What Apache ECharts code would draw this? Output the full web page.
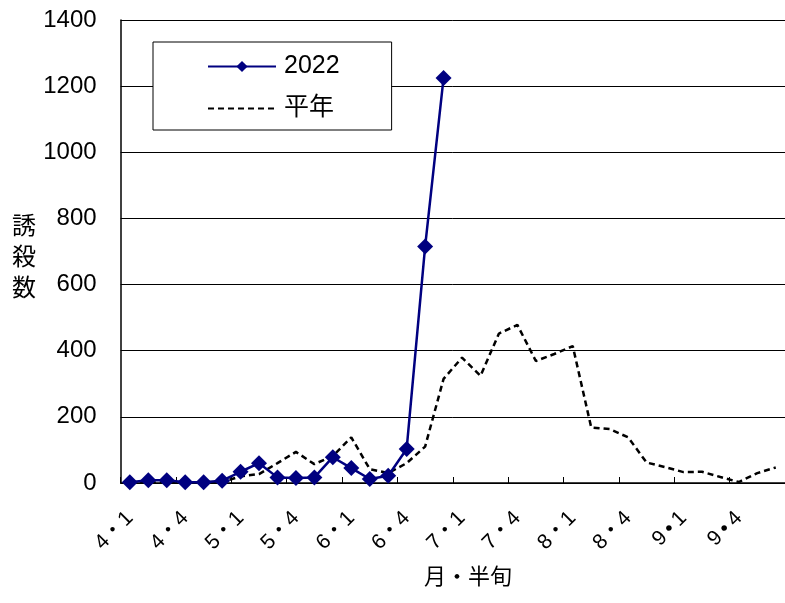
<!DOCTYPE html>
<html>
<head>
<meta charset="utf-8">
<script src="https://cdn.jsdelivr.net/npm/echarts@6/dist/echarts.min.js"></script>
<style>html,body{margin:0;padding:0;background:#fff}#c{width:785px;height:603px}</style>
</head>
<body>
<div id="c"></div>
<script>
const categories = [
  '4・1','4・2','4・3','4・4','4・5','4・6',
  '5・1','5・2','5・3','5・4','5・5','5・6',
  '6・1','6・2','6・3','6・4','6・5','6・6',
  '7・1','7・2','7・3','7・4','7・5','7・6',
  '8・1','8・2','8・3','8・4','8・5','8・6',
  '9\u2009•\u20091','9\u2009•\u20092','9\u2009•\u20093','9\u2009•\u20094','9\u2009•\u20095','9\u2009•\u20096'
];
const values2022 = [2, 8, 8, 2, 2, 7, 34, 60, 17, 15, 17, 78, 45, 12, 22, 103, 715, 1225,
  null, null, null, null, null, null, null, null, null, null, null, null, null, null, null, null, null, null];
const valuesNormal = [1, 1, 2, 1, 2, 3, 20, 27, 60, 94, 57, 82, 138, 42, 30, 60, 110, 315,
  379, 324, 452, 478, 369, 390, 414, 168, 163, 138, 62, 48, 33, 34, 18, 3, 30, 47];
const yTicks = { min: 0, max: 1400, interval: 200 };
const names = { s1: '2022', s2: '平年', y: '誘\n殺\n数', x: '月・半旬' };

const FONT = '"Liberation Sans", "Noto Sans CJK JP", sans-serif';
const chart = echarts.init(document.getElementById('c'));
chart.setOption({
  animation: false,
  backgroundColor: '#fff',
  grid: { left: 120.6, top: 20, width: 670.7, height: 463, containLabel: false },
  legend: {
    orient: 'vertical',
    left: 153, top: 42,
    backgroundColor: '#fff',
    borderColor: '#000', borderWidth: 1,
    padding: [12, 52, 9, 54],
    itemWidth: 68, itemHeight: 14, itemGap: 17,
    textStyle: { fontSize: 25, color: '#000', fontFamily: FONT, padding: [0, 0, 0, 3] },
    data: [{ name: names.s1 }, { name: names.s2, itemStyle: { opacity: 0 } }]
  },
  xAxis: {
    type: 'category',
    data: categories,
    boundaryGap: true,
    axisLine: { lineStyle: { color: '#000', width: 1.5 } },
    axisTick: { show: true, inside: true, length: 6, interval: 2, lineStyle: { color: '#000' } },
    axisLabel: { interval: 2, rotate: 45, fontSize: 21, color: '#000', margin: 32, fontFamily: FONT },
    splitLine: { show: false }
  },
  yAxis: {
    type: 'value',
    min: yTicks.min, max: yTicks.max, interval: yTicks.interval,
    axisLine: { show: true, lineStyle: { color: '#000', width: 1.5 } },
    axisTick: { show: false },
    axisLabel: { fontSize: 24, color: '#000', margin: 24, fontFamily: FONT, formatter: function (v) { return String(v); } },
    splitLine: { show: true, lineStyle: { color: '#000', width: 1 } }
  },
  graphic: [
    { type: 'text', left: 12, top: 212, style: { text: names.y, fontSize: 24, lineHeight: 31, fill: '#000', fontFamily: FONT } },
    { type: 'text', left: 424, top: 567, style: { text: names.x, fontSize: 22, fill: '#000', fontFamily: FONT } }
  ],
  series: [
    {
      name: names.s2,
      type: 'line',
      data: valuesNormal,
      symbol: 'none',
      lineStyle: { color: '#000', width: 2.5, type: [6, 4] },
      itemStyle: { color: '#000' },
      z: 2
    },
    {
      name: names.s1,
      type: 'line',
      data: values2022,
      symbol: 'diamond',
      symbolSize: 16,
      showAllSymbol: true,
      connectNulls: false,
      lineStyle: { color: '#000080', width: 2.5 },
      itemStyle: { color: '#000080' },
      z: 3
    }
  ]
});
</script>
</body>
</html>
